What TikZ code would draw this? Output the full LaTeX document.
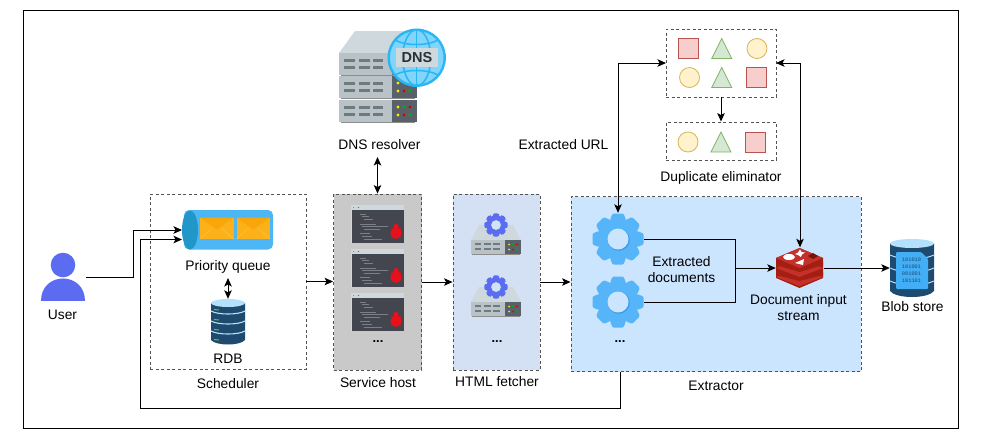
\documentclass[tikz,border=0pt]{standalone}
\usepackage{fontspec}
\setmainfont{Liberation Sans}
\newfontfamily\binfont{Liberation Mono}
\usepackage{xcolor}
\usetikzlibrary{positioning, arrows.meta}

\definecolor{hostgray}{HTML}{C9C9C9}
\definecolor{fetchblue}{HTML}{D4E1F5}
\definecolor{extractblue}{HTML}{CCE5FF}
\definecolor{gearblue}{HTML}{56B4F9}
\definecolor{gearshade}{HTML}{3F9CE6}
\definecolor{indigoicon}{HTML}{5B6CF0}
\definecolor{dbdark}{HTML}{1D4A6E}
\definecolor{dblight}{HTML}{B3E0FB}
\definecolor{docblue}{HTML}{42AEF5}
\definecolor{rackface}{HTML}{B9C2C6}
\definecolor{racktop}{HTML}{CFD8DC}
\definecolor{rackpanel}{HTML}{59626A}
\definecolor{rackslot}{HTML}{6F7A7F}
\definecolor{windowbody}{HTML}{43454F}
\definecolor{windowline}{HTML}{7C7E88}
\definecolor{bugred}{HTML}{E8101A}
\definecolor{redistop}{HTML}{C6302B}
\definecolor{redisside}{HTML}{A41E11}
\definecolor{globering}{HTML}{29B6F6}
\definecolor{globefill}{HTML}{81D4FA}
\definecolor{inkdark}{HTML}{263238}
\definecolor{queuebody}{HTML}{4DB6F5}
\definecolor{queuecap}{HTML}{2196C8}
\definecolor{mailface}{HTML}{FBB117}
\definecolor{mailflap}{HTML}{F9A60B}
\definecolor{mailfold}{HTML}{FDC445}
\definecolor{tickgreen}{HTML}{7CB342}
\definecolor{sqfill}{HTML}{F8CECC}
\definecolor{sqline}{HTML}{B85450}
\definecolor{cirfill}{HTML}{FFF2CC}
\definecolor{cirline}{HTML}{D6B656}
\definecolor{trifill}{HTML}{D5E8D4}
\definecolor{triline}{HTML}{82B366}

\tikzset{
  lbl/.style={font=\fontsize{13.8}{16}\selectfont, align=center, inner sep=0pt},
  dots/.style={font=\fontsize{13}{15}\bfseries\selectfont, inner sep=0pt},
  dashbox/.style={draw=black!68, line width=0.9pt, dash pattern=on 3pt off 2.5pt, inner sep=0pt},
  iconspot/.style={inner sep=0pt},
  arrowline/.style={line width=1pt, -{Stealth[length=8.5pt,width=7.5pt,inset=2pt]}},
  biline/.style={line width=1pt, {Stealth[length=8.5pt,width=7.5pt,inset=2pt]}-{Stealth[length=8.5pt,width=7.5pt,inset=2pt]}},
  plainline/.style={line width=1pt},
  dupsquare/.style={draw=sqline, fill=sqfill, line width=1pt, minimum size=20pt, inner sep=0pt},
  dupcircle/.style={circle, draw=cirline, fill=cirfill, line width=0.8pt, minimum size=20pt, inner sep=0pt},
  pics/duptri/.style={code={
    \filldraw[draw=triline, fill=trifill, line width=0.8pt] (-10,10) -- (0,-10) -- (10,10) -- cycle;
  }},
  pics/gearicon/.style n args={2}{code={
    \foreach \a in {0,45,...,315}
      \fill[#1, rotate=\a, rounded corners=1.2pt] (-8,-19) -- (-5.5,-25.5) -- (5.5,-25.5) -- (8,-19) -- cycle;
    \fill[#1] (0,0) circle (21);
    \fill[gearshade] (0.8,0.8) circle (11);
    \fill[#2] (0,0) circle (10.5);
  }},
  pics/rackunit/.style={code={
    \fill[rackface] (-39,-11) rectangle (39,11);
    \fill[rackpanel] (14.5,-11) rectangle (39,11);
    \fill[black!45] (-37,11) rectangle (37,12);
    \foreach \c in {-33.5,-18.5,-5} {
      \fill[rackslot] (\c,-5.5) rectangle ++(10.5,3);
      \fill[rackslot] (\c,2) rectangle ++(10.5,3);
    }
    \fill[yellow!90!orange] (20.5,-4) circle (1.6);
    \fill[green!70!black] (26.5,-4) circle (1.6);
    \fill[red!85!black] (32.5,-4) circle (1.6);
    \fill[yellow!90!orange] (20.5,4) circle (1.6);
    \fill[red!85!black] (26.5,4) circle (1.6);
    \fill[green!70!black] (32.5,4) circle (1.6);
  }},
  pics/codewindow/.style={code={
    \fill[racktop] (-26.5,-19) rectangle (26.5,19);
    \fill[windowbody] (-26,-14) rectangle (26,18.5);
    \fill[orange] (-24,-16.5) circle (0.7);
    \fill[yellow!80!orange] (-21.5,-16.5) circle (0.7);
    \fill[green!70!black] (-19,-16.5) circle (0.7);
    \draw[windowline, line width=0.5pt]
      (-18,-10) -- (-12,-10) (-16,-7.5) -- (-9,-7.5) (-14,-5) -- (-5,-5)
      (-18,0) -- (-2,0) (-16,2.5) -- (10,2.5) (-14,5) -- (2,5)
      (-18,9) -- (-8,9) (-16,12) -- (-6,12) (-14,15) -- (4,15);
    \draw[bugred, line width=0.4pt]
      (13,4) -- (24,14) (24,4) -- (13,14) (12,9) -- (25,9);
    \fill[bugred] (18.5,9) ellipse (5.5 and 6);
    \fill[bugred] (18.5,2.5) circle (2.6);
  }}
}

\begin{document}
\begin{tikzpicture}[x=1pt, y=-1pt]
\useasboundingbox (0,0) rectangle (985,440);

% Outer frame
\node[draw=black, line width=1pt, minimum width=935pt, minimum height=418pt, inner sep=0pt] (frame) at (490.5,219) {};

% Group boxes
\node[dashbox, minimum width=156pt, minimum height=175pt] (schedbox) at (228,281.5) {};
\node[dashbox, fill=hostgray, minimum width=88pt, minimum height=176pt] (hostbox) at (377.5,282) {};
\node[dashbox, fill=fetchblue, minimum width=87pt, minimum height=176pt] (fetchbox) at (496.5,282) {};
\node[dashbox, fill=extractblue, minimum width=290pt, minimum height=175pt] (extractbox) at (716,284) {};
\node[dashbox, minimum width=110pt, minimum height=68pt] (dupbox) at (721,63) {};
\node[dashbox, minimum width=110pt, minimum height=38pt] (uniquebox) at (721,141) {};

% User
\node[iconspot, minimum width=46pt, minimum height=46pt] (user) at (63,277) {};
\fill[indigoicon] (63,265) circle (12.3);
\fill[indigoicon] (41,301) .. controls (41,271) and (85,271) .. (85,301) -- cycle;

% Priority queue
\node[iconspot, minimum width=91pt, minimum height=40pt] (queue) at (227.5,230) {};
\fill[queuebody, rounded corners=5pt] (184,210) rectangle (273,249.5);
\fill[queuecap] (190,230) ellipse (8 and 19.5);
\foreach \ex in {200,236.5} {
  \fill[mailface] (\ex,217.5) rectangle ++(33.5,21.5);
  \draw[mailfold, line width=0.5pt] (\ex,239) -- ++(12,-11) (\ex+33.5,239) -- ++(-12,-11);
  \fill[mailflap] (\ex,217.5) -- ++(33.5,0) -- ++(-16.75,12) -- cycle;
}

% RDB
\node[iconspot, minimum width=34pt, minimum height=46pt] (rdb) at (228,322) {};
\fill[dbdark] (211,303) -- (245,303) -- (245,340) .. controls (240,346) and (216,346) .. (211,340) -- cycle;
\fill[dblight] (228,303) ellipse (17 and 4);
\draw[dblight, line width=1.1pt] (211,311) .. controls (218,315) and (238,315) .. (245,311);
\draw[dblight, line width=1.1pt] (211,321) .. controls (218,325) and (238,325) .. (245,321);
\draw[dblight, line width=1.1pt] (211,331) .. controls (218,335) and (238,335) .. (245,331);
\draw[tickgreen, line width=1pt] (214,309.5) -- (219,310) (214,319.5) -- (219,320) (214,329.5) -- (219,330) (214,339.5) -- (219,340);

% DNS resolver
\fill[racktop] (339,53) -- (355,31) -- (410,31) -- (416,53) -- cycle;
\pic at (377.5,64) {rackunit};
\pic at (377.5,87) {rackunit};
\pic at (377.5,111) {rackunit};
\filldraw[draw=globering, fill=globefill, line width=2.4pt] (416.7,57.7) circle (28);
\draw[globering, line width=1.5pt] (416.7,29.7) -- (416.7,85.7);
\draw[globering, line width=1.5pt] (416.7,57.7) ellipse (14 and 28);
\draw[globering, line width=1.5pt] (395,40) .. controls (405,46) and (428,46) .. (438,40);
\draw[globering, line width=1.5pt] (395,75) .. controls (405,69) and (428,69) .. (438,75);
\node[fill=racktop, text=inkdark, font=\fontsize{14.5}{15}\bfseries\selectfont, minimum width=42pt, minimum height=19pt, inner sep=0pt] (dnsbadge) at (417,57.5) {DNS};

% Code windows in the service host
\pic at (377.5,224) {codewindow};
\pic at (377.5,268) {codewindow};
\pic at (377.5,312) {codewindow};

% Servers in the HTML fetcher
\fill[racktop] (471,240) -- (479,225) -- (513,225) -- (521,240) -- cycle;
\pic[scale=0.64] at (496,247) {rackunit};
\pic[scale=0.46] at (496,225) {gearicon={indigoicon}{fetchblue}};
\fill[racktop] (471,302) -- (479,287) -- (513,287) -- (521,302) -- cycle;
\pic[scale=0.64] at (496,309) {rackunit};
\pic[scale=0.46] at (496,287) {gearicon={indigoicon}{fetchblue}};

% Extractor gears
\node[iconspot, minimum size=52pt] (gearone) at (618,239) {};
\node[iconspot, minimum size=52pt] (geartwo) at (618,302) {};
\pic at (618,239) {gearicon={gearblue}{extractblue}};
\pic at (618,302) {gearicon={gearblue}{extractblue}};

% Document input stream
\node[iconspot, minimum width=48pt, minimum height=41pt] (redis) at (800,268) {};
\filldraw[draw=none, fill=redisside] (776,258) -- (799.5,248) -- (823,258) -- (823,278) -- (799.5,288) -- (776,278) -- cycle;
\fill[redistop] (776,277) -- (799.5,267) -- (823,277) -- (799.5,286) -- cycle;
\fill[redisside] (776,272) -- (799.5,262) -- (823,272) -- (823,275) -- (799.5,281) -- (776,275) -- cycle;
\fill[redistop] (776,268) -- (799.5,258) -- (823,268) -- (799.5,277) -- cycle;
\fill[redisside] (776,262) -- (799.5,252) -- (823,262) -- (823,265) -- (799.5,272) -- (776,265) -- cycle;
\fill[redistop] (776,258) -- (799.5,248) -- (823,258) -- (799.5,268) -- cycle;
\fill[white] (789,257) ellipse (6 and 3);
\fill[white] (800,249.5) -- (801.5,252) -- (805,252.5) -- (802,254.5) -- (801,257) -- (798,255) -- (795,254) -- (798,252.5) -- cycle;
\fill[white] (795,263) -- (804,259) -- (803,265) -- cycle;
\fill[redisside!70!black] (808,256) -- (813,253) -- (818,256) -- (813,259) -- cycle;

% Blob store
\node[iconspot, minimum width=44pt, minimum height=58pt] (blob) at (912,268) {};
\fill[dbdark] (890,243) -- (934,243) -- (934,291) .. controls (928,299) and (896,299) .. (890,291) -- cycle;
\fill[dblight] (912,243.5) ellipse (22 and 4.5);
\draw[dblight, line width=1pt] (890,255) .. controls (900,260) and (924,260) .. (934,255);
\draw[dblight, line width=1pt] (890,268) .. controls (900,273) and (924,273) .. (934,268);
\draw[dblight, line width=1pt] (890,281) .. controls (900,286) and (924,286) .. (934,281);
\fill[docblue, rounded corners=1pt] (896,252) -- (921,252) -- (928,259) -- (928,289) -- (896,289) -- cycle;
\node[inner sep=0pt, text=dbdark, font=\binfont\fontsize{5.3}{7}\selectfont, align=center] (blobbits) at (911.5,270.5) {101010\\101001\\001001\\101101};

% Shapes of the duplicate eliminator
\node[dupsquare] (squareone) at (688.5,48) {};
\pic at (721.7,48.5) {duptri};
\node[dupcircle] (circleone) at (757,48.5) {};
\node[dupcircle] (circletwo) at (689.5,77.5) {};
\pic at (721.7,77.5) {duptri};
\node[dupsquare] (squaretwo) at (756.7,77) {};
\node[dupcircle] (circlethree) at (688,142) {};
\pic at (721,142) {duptri};
\node[dupsquare] (squarethree) at (755.7,142) {};

% Labels
\node[lbl] (userlbl) at (62.5,315) {User};
\node[lbl] (queuelbl) at (228,267) {Priority queue};
\node[lbl] (rdblbl) at (228,359) {RDB};
\node[lbl] (schedlbl) at (228,384) {Scheduler};
\node[lbl] (dnslbl) at (379.5,145) {DNS resolver};
\node[lbl] (hostlbl) at (378,383) {Service host};
\node[lbl] (fetchlbl) at (497,382) {HTML fetcher};
\node[lbl] (extractlbl) at (716,386) {Extractor};
\node[lbl] (urllbl) at (563.5,145) {Extracted URL};
\node[lbl] (duplbl) at (721,178) {Duplicate eliminator};
\node[lbl] (docslbl) at (681.5,270) {Extracted\\documents};
\node[lbl] (streamlbl) at (798.5,307.5) {Document input\\stream};
\node[lbl] (bloblbl) at (912.5,307) {Blob store};
\node[dots] (hostdots) at (378,342) {...};
\node[dots] (fetchdots) at (497,342) {...};
\node[dots] (gearsdots) at (620,342) {...};

% Free ends of connectors
\coordinate (queuetop) at (182,230);
\coordinate (queuelow) at (182,239.5);
\coordinate (extout) at (620.5,372);
\coordinate (dnsport) at (377.5,157);
\coordinate (queueport) at (228,278);
\coordinate (docjoin) at (735,268);
\coordinate (dupleft) at (666,63);
\coordinate (dupright) at (776,63);

% Connectors
\draw[arrowline] (user.east) -- ++(47.5,0) |- (queuetop);
\draw[arrowline] (extout) -- ++(0,36) -- (140,408) |- (queuelow);
\draw[biline] (queueport) -- (rdb.north);
\draw[arrowline] (schedbox.east) -- (schedbox.east -| hostbox.west);
\draw[arrowline] (hostbox.east) -- (fetchbox.west);
\draw[arrowline] (fetchbox.east) -- (fetchbox.east -| extractbox.west);
\draw[biline] (dnsport) -- (hostbox.north);
\draw[biline] (gearone.north) |- (dupleft);
\draw[biline] (redis.north) |- (dupright);
\draw[arrowline] (dupbox.south) -- (uniquebox.north);
\draw[plainline] (gearone.east) -| (docjoin);
\draw[plainline] (geartwo.east) -| (docjoin);
\draw[arrowline] (docjoin) -- (redis.west);
\draw[arrowline] (redis.east) -- (blob.west);

\end{tikzpicture}
\end{document}
